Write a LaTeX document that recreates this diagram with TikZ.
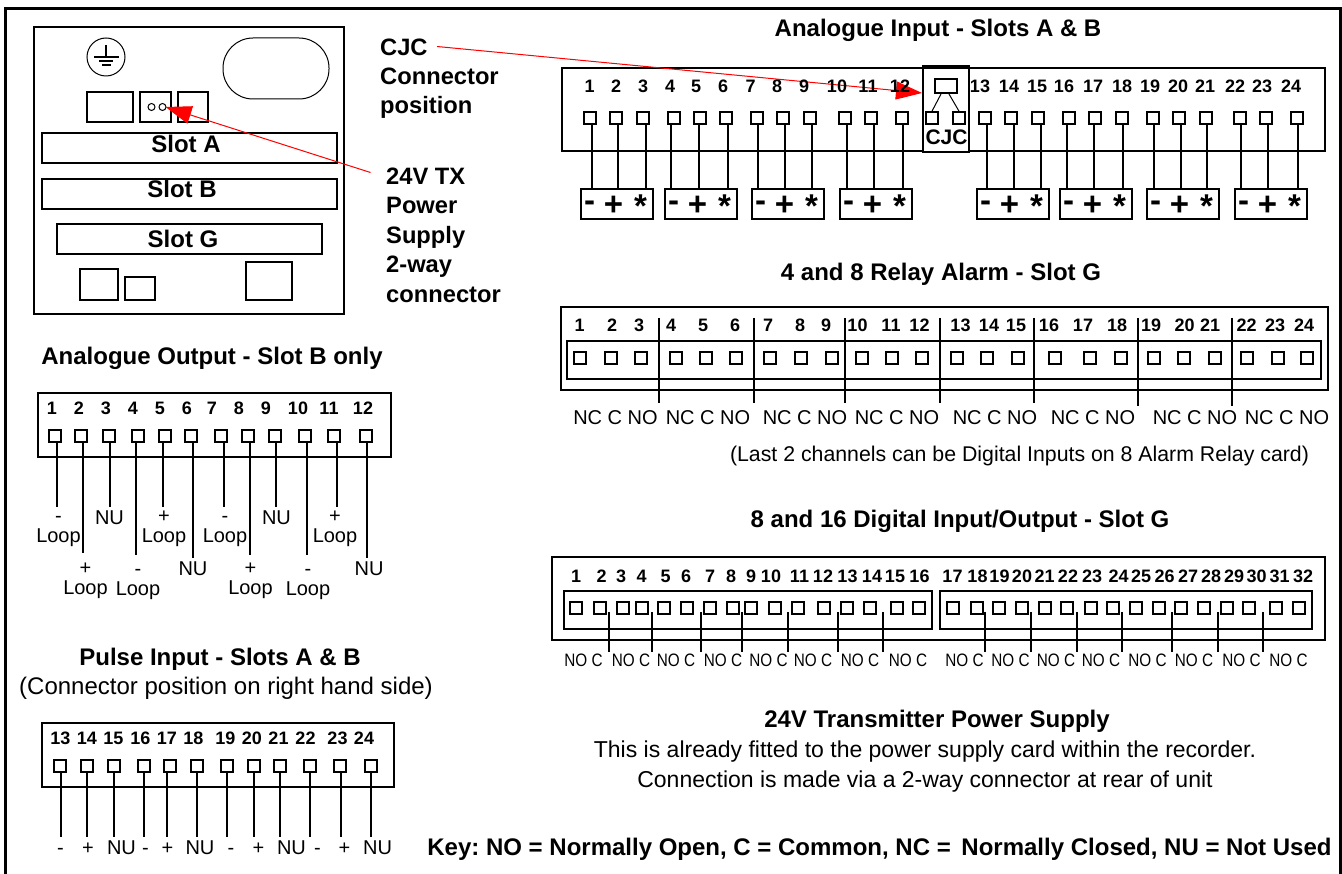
\documentclass[tikz,border=0pt]{standalone}
\usepackage{fontspec}
\setmainfont{Liberation Sans}
\newfontfamily\narrowfont[FakeStretch=0.85]{Liberation Sans}
\usetikzlibrary{arrows.meta}

\tikzset{
    txt/.style={inner sep=0pt,anchor=mid,yshift=-3pt},
    thead/.style={txt,font=\bfseries\fontsize{24}{28}\selectfont},
    tside/.style={inner sep=0pt,anchor=base west,font=\bfseries\fontsize{23.7}{28}\selectfont},
    tnum/.style={txt,font=\bfseries\fontsize{18}{20}\selectfont},
    tsig/.style={txt,font=\fontsize{20}{24}\selectfont},
    tbody/.style={txt,font=\fontsize{23}{26}\selectfont},
    tsmall/.style={txt,font=\fontsize{21.3}{24}\selectfont},
    tnarrow/.style={txt,font=\narrowfont\fontsize{18}{20}\selectfont},
    tpm/.style={inner sep=0pt,font=\bfseries\fontsize{33}{36}\selectfont},
    term/.style={draw,line width=1.6pt,minimum size=12pt,inner sep=0pt},
    pmbox/.style={draw,line width=2pt,minimum width=72pt,minimum height=30pt,inner sep=0pt},
    wire/.style={line width=2pt},
    thinwire/.style={line width=1.5pt},
    panel/.style={line width=2pt},
    redarrow/.style={red,line width=1pt,-{Triangle[length=26pt,width=18pt]}}
}

\begin{document}
\frenchspacing
\begin{tikzpicture}[x=1pt,y=-1pt]
            \useasboundingbox (0,0) rectangle (1342,874);

            % page frame, open at the bottom
            \draw[line width=3pt] (5.5,874) -- (5.5,8.5) -- (1340.5,8.5) -- (1340.5,874);

            % rear panel
            \draw[panel] (34,27) rectangle (344,314);
            \draw[line width=1pt] (106,57) circle (19);
            \draw[line width=1.4pt] (106,45) -- (106,57);
            \draw[line width=1.4pt] (94,57) -- (119,57);
            \draw[line width=1.4pt] (99,61) -- (113,61);
            \draw[line width=1.4pt] (102,65) -- (111,65);
            \draw[line width=1pt,rounded corners=30pt] (223,38) rectangle (329,99);
            \draw[panel] (87,92) rectangle (133,122);
            \draw[panel] (140,92) rectangle (171,122);
            \draw[panel] (178,92) rectangle (208,122);
            \draw[line width=1pt] (151.5,107) circle (3.5);
            \draw[line width=1pt] (162.5,107) circle (3.5);
            \draw[panel] (42,133) rectangle (337,163);
            \draw[panel] (42,179) rectangle (337,209);
            \draw[panel] (57,224) rectangle (322,254);
            \draw[panel] (80,269) rectangle (118,300);
            \draw[panel] (125,277) rectangle (155,300);
            \draw[panel] (246,262) rectangle (292,300);
            \node[thead] (slota) at (186,147) {Slot A};
            \node[thead] (slotb) at (182,192) {Slot B};
            \node[thead] (slotg) at (183,242) {Slot G};

            \node[tside] (cjca) at (380,55.5) {CJC};
            \node[tside] (cjcb) at (380,84.5) {Connector};
            \node[tside] (cjcc) at (380,113.5) {position};
            \node[tside] (txa) at (386,185) {24V TX};
            \node[tside] (txb) at (386,214) {Power};
            \node[tside] (txc) at (386,244) {Supply};
            \node[tside] (txd) at (386,273) {2-way};
            \node[tside] (txe) at (386,303) {connector};

            % analogue input
            \node[thead] (anhead) at (938,31) {Analogue Input - Slots A \& B};
            \draw[panel] (562,68) rectangle (1325,151);

            % pointer to the CJC, under the numbers
            \coordinate (cjcfrom) at (437,46.5);
            \coordinate (cjcto) at (922,93);
            \draw[redarrow] (cjcfrom) -- (cjcto);

            \foreach \i/\x in {1/589.5,2/616,3/643,4/670,5/696,6/723,7/750.5,8/777,9/804,10/837,11/868,12/900,
                               13/980,14/1009,15/1037,16/1064,17/1093,18/1122,19/1150,20/1178,21/1205,22/1235,23/1262,24/1291}
                \node[tnum] (annum\i) at (\x,87) {\i};
            \foreach \i/\x/\w in {1/590/592,2/616/618,3/643/646,4/674/671,5/700/699,6/726/728,7/757/758,8/783/785,9/810/812,10/845/847,11/871/874,12/902/903,
                                  13/985/987,14/1011/1014,15/1038/1041,16/1069/1067,17/1095/1094,18/1122/1123,19/1153/1154,20/1179/1181,21/1206/1207,22/1240/1241,23/1266/1268,24/1297/1298} {
                \node[term] (an\i) at (\x,118) {};
                \coordinate (anw\i) at (\w,189);
                \draw[wire] (anw\i |- an\i.south) -- (anw\i);
            }
            \foreach \i/\x in {1/617,2/701,3/788,4/876,5/1013,6/1096,7/1183,8/1271} {
                \node[pmbox] (pm\i) at (\x,204) {};
                \node[tpm] (pmm\i) at ([xshift=-27.5pt,yshift=-2pt]pm\i.center) {-};
                \node[tpm] (pmp\i) at ([xshift=-3.5pt,yshift=-2pt]pm\i.center) {+};
                \node[tpm] (pms\i) at ([xshift=23.5pt,yshift=-2pt]pm\i.center) {*};
            }

            % CJC link
            \draw[fill=white,line width=2pt] (923,67) rectangle (969,152);
            \draw[line width=3.5pt] (922,67) -- (970,67);
            \node[draw,line width=2pt,minimum width=22pt,minimum height=14pt,inner sep=0pt] (cjcbox) at (946,86) {};
            \node[term] (cjcl) at (932,118) {};
            \node[term] (cjcr) at (959,118) {};
            \draw[line width=1pt] ([xshift=-5pt]cjcbox.south) -- (cjcl.north);
            \draw[line width=1pt] ([xshift=3pt]cjcbox.south) -- (cjcr.north);
            \node[txt,font=\bfseries\fontsize{21}{24}\selectfont] (cjclab) at (946.5,139) {CJC};

            % relay alarm
            \node[thead] (relhead) at (941,275) {4 and 8 Relay Alarm - Slot G};
            \draw[panel] (561,307) rectangle (1328,390);
            \draw[panel] (567,341) rectangle (1321,379);
            \foreach \i/\x in {1/579.5,2/612,3/639,4/671,5/703,6/735,7/768,8/800,9/826,10/857.5,11/891,12/919.5,
                               13/960.5,14/989,15/1016,16/1049,17/1083,18/1117,19/1151,20/1184.5,21/1210,22/1246.5,23/1275,24/1304}
                \node[tnum] (relnum\i) at (\x,326) {\i};
            \foreach \i/\x in {1/580,2/611,3/641,4/676,5/706,6/736,7/770,8/801,9/832,10/862,11/892,12/922,
                               13/957,14/987,15/1018,16/1055,17/1090,18/1121,19/1154,20/1184,21/1215,22/1247,23/1278,24/1307}
                \node[term] (rel\i) at (\x,358) {};
            \foreach \i/\x/\e in {1/659/403,2/754/403,3/845/403,4/940/403,5/1034/403,6/1138/406,7/1232/406} {
                \coordinate (reltop\i) at (\x,318);
                \coordinate (relend\i) at (\x,\e);
                \draw[thinwire] (reltop\i) -- (relend\i);
            }
            \foreach \i/\x in {1/615.5,2/708,3/805,4/897,5/995,6/1093,7/1195,8/1287}
                \node[tsig] (nc\i) at (\x,419) {NC C NO};
            \node[tsmall] (relnote) at (1019.5,456) {(Last 2 channels can be Digital Inputs on 8 Alarm Relay card)};

            % digital input/output
            \node[thead] (dighead) at (960,522) {8 and 16 Digital Input/Output - Slot G};
            \draw[panel] (552,557) rectangle (1325,640);
            \draw[panel] (564,591) rectangle (932,629);
            \draw[panel] (940,591) rectangle (1312,629);
            \foreach \i/\x in {1/576,2/601.5,3/621,4/641.5,5/665.5,6/686,7/710,8/731,9/751,10/771,11/799.5,12/823,13/847.5,14/872,15/895,16/919.5,
                               17/952.5,18/977.5,19/999.5,20/1022,21/1044.5,22/1068,23/1092,24/1118.5,25/1141,26/1164.5,27/1188,28/1211,29/1234,30/1256.5,31/1279.5,32/1303}
                \node[tnum] (dignum\i) at (\x,577) {\i};
            \foreach \i/\x in {1/576,2/600,3/623,4/642,5/664,6/687,7/710,8/733,9/751,10/775,11/798,12/824,13/847,14/870,15/897,16/919,
                               17/953,18/977,19/999,20/1022,21/1045,22/1067,23/1091,24/1113,25/1136,26/1159,27/1181,28/1204,29/1227,30/1249,31/1276,32/1299}
                \node[term] (dig\i) at (\x,608) {};
            \foreach \i/\x in {1/609,2/652,3/701,4/742,5/788,6/838,7/883,8/985,9/1031,10/1077,11/1122,12/1172,13/1218,14/1263} {
                \coordinate (digtop\i) at (\x,612);
                \coordinate (digend\i) at (\x,652);
                \draw[thinwire] (digtop\i) -- (digend\i);
            }
            \foreach \i/\x in {1/583.5,2/631,3/676,4/723,5/768.5,6/813,7/860,8/908,
                               9/964.5,10/1010.5,11/1056,12/1101,13/1147.5,14/1194,15/1241.5,16/1288.5}
                \node[tnarrow] (noc\i) at (\x,661) {NO C};

            % supply note and key
            \node[thead] (txhead) at (937,722) {24V Transmitter Power Supply};
            \node[tbody] (txline) at (925,752) {This is already fitted to the power supply card within the recorder.};
            \node[tbody] (conline) at (925,782) {Connection is made via a 2-way connector at rear of unit};
            \node[thead] (keyline) at (879.5,850) {Key: NO = Normally Open, C = Common, NC =\, Normally Closed, NU = Not Used};

            % analogue output
            \node[thead] (outhead) at (212,359) {Analogue Output - Slot B only};
            \draw[panel] (38,393) rectangle (391,457);
            \foreach \i/\x in {1/52,2/79,3/106,4/133,5/160,6/187,7/212,8/239,9/266,10/298,11/329,12/363}
                \node[tnum] (outnum\i) at (\x,409) {\i};
            \foreach \i/\x/\w/\e in {1/55/57/507,2/81/83/553,3/109/110/507,4/138/136/555,5/165/163/507,6/191/193/558,
                                     7/221/224/507,8/248/250/555,9/275/276/507,10/305/307/555,11/334/337/507,12/366/367/558} {
                \node[term] (out\i) at (\x,436) {};
                \coordinate (outw\i) at (\w,\e);
                \draw[wire] (outw\i |- out\i.south) -- (outw\i);
            }
            \foreach \i/\x/\y/\t in {1/58.5/517/-,2/85.5/569/+,3/109.5/519/NU,4/138/570/-,5/164/517/+,6/193/570/NU,
                                     7/225/517/-,8/250.5/569/+,9/276.5/519/NU,10/308/570/-,11/335/517/+,12/369/570/NU}
                \node[tsig] (sig\i) at (\x,\y) {\t};
            \foreach \i/\x/\y in {1/58.5/537,2/85.5/589,3/164/537,4/138/590,5/225/537,6/250.5/589,7/335/537,8/308/590}
                \node[tsig] (loop\i) at (\x,\y) {Loop};

            % pulse input
            \node[thead] (pulhead) at (220,660) {Pulse Input - Slots A \& B};
            \node[tsig,font=\fontsize{24}{28}\selectfont] (pulnote) at (226,689) {(Connector position on right hand side)};
            \draw[panel] (42,723) rectangle (394,787);
            \foreach \i/\x in {13/60.5,14/87,15/113.5,16/140.5,17/167,18/193.5,19/225.5,20/252,21/278.5,22/305.5,23/337.5,24/364}
                \node[tnum] (pulnum\i) at (\x,739) {\i};
            \foreach \i/\x/\w/\l/\t in {13/60/61/60.5/-,14/87/87/88/+,15/114/114/121.5/NU,16/144/144/145.5/-,17/170/167/167.5/+,18/197/197/200/NU,
                                        19/227/227/231/-,20/254/254/258.5/+,21/280/280/291.5/NU,22/310/310/317.5/-,23/340/341/344.5/+,24/371/371/377.5/NU} {
                \node[term] (pul\i) at (\x,766) {};
                \coordinate (pulw\i) at (\w,837);
                \draw[wire] (pulw\i |- pul\i.south) -- (pulw\i);
                \node[tsig] (pulsig\i) at (\l,849) {\t};
            }

            % pointer to the supply connector
            \coordinate (txfrom) at (370.5,172.5);
            \coordinate (txto) at (165.5,107);
            \draw[redarrow] (txfrom) -- (txto);

        \end{tikzpicture}
\end{document}
